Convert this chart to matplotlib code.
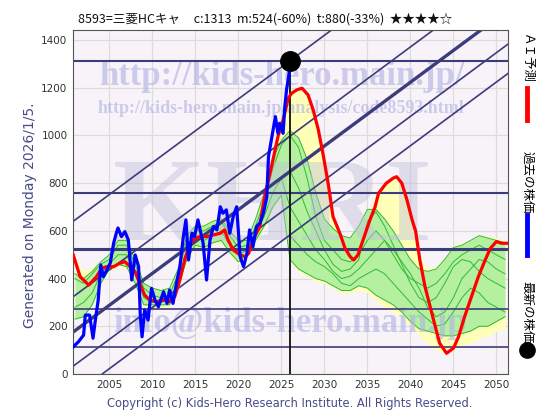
import matplotlib
matplotlib.use('Agg')
import matplotlib.pyplot as plt
import numpy as np

# --- data ------------------------------------------------------------------
past_years = [2000.8, 2001.4, 2002.0, 2002.2, 2002.7, 2003.1, 2003.4, 2003.7, 2004.0, 2004.3,
              2004.7, 2005.1, 2005.5, 2005.8, 2006.0, 2006.4, 2006.8, 2007.2, 2007.6, 2008.0,
              2008.4, 2008.6, 2008.8, 2009.1, 2009.5, 2009.9, 2010.3, 2010.7, 2011.3, 2011.7,
              2012.0, 2012.4, 2012.8, 2013.2, 2013.6, 2013.9, 2014.2, 2014.6, 2014.9, 2015.3,
              2015.9, 2016.3, 2016.7, 2017.1, 2017.5, 2017.9, 2018.2, 2018.6, 2019.0, 2019.4,
              2019.8, 2020.2, 2020.6, 2021.0, 2021.3, 2021.7, 2022.1, 2022.5, 2022.9, 2023.3,
              2023.5, 2023.9, 2024.3, 2024.6, 2024.8, 2025.2, 2025.4, 2025.6, 2025.9, 2026.0]
past_price = [114, 135, 163, 247, 247, 150, 234, 310, 457, 408,
              436, 465, 549, 590, 612, 576, 597, 562, 394, 499,
              450, 240, 156, 268, 226, 359, 310, 282, 345, 296,
              352, 296, 380, 450, 576, 646, 478, 590, 576, 646,
              548, 394, 562, 618, 604, 701, 674, 688, 590, 660,
              701, 492, 450, 506, 604, 534, 618, 632, 674, 740,
              911, 995, 1079, 1009, 1051, 1009, 1121, 1191, 1261, 1313]

pred_years = [2000.8, 2001.6, 2002.6, 2003.5, 2004.1, 2004.7, 2005.5, 2006.2, 2006.8, 2007.4,
              2008.0, 2008.6, 2009.1, 2009.7, 2010.5, 2011.3, 2012.0, 2012.6, 2013.2, 2013.8,
              2014.4, 2015.0, 2015.5, 2016.3, 2017.1, 2017.9, 2018.4, 2018.8, 2019.4, 2020.2,
              2020.8, 2021.2, 2021.7, 2022.5, 2022.9, 2023.5, 2024.1, 2024.6, 2025.2, 2025.8,
              2026.2, 2026.8, 2027.4, 2028.1, 2028.7, 2029.3, 2029.9, 2030.5, 2031.0, 2031.8,
              2032.4, 2033.0, 2033.4, 2033.9, 2034.5, 2035.3, 2035.9, 2036.3, 2037.2, 2038.0,
              2038.4, 2039.0, 2039.6, 2040.2, 2040.6, 2041.1, 2041.7, 2042.3, 2042.9, 2043.4,
              2044.2, 2045.0, 2045.6, 2046.3, 2047.1, 2047.9, 2048.7, 2049.3, 2050.0, 2050.6,
              2051.4]
pred_value = [499, 408, 373, 408, 443, 450, 450, 464, 471, 450,
              429, 373, 331, 310, 303, 310, 303, 324, 394, 485,
              548, 569, 576, 576, 583, 590, 604, 562, 520, 499,
              492, 506, 562, 618, 716, 813, 911, 995, 1065, 1156,
              1177, 1191, 1198, 1170, 1107, 1023, 911, 785, 660, 590,
              527, 492, 478, 499, 562, 646, 701, 758, 800, 821,
              827, 800, 730, 646, 600, 478, 366, 282, 198, 129,
              87, 108, 156, 240, 324, 408, 478, 527, 555, 548,
              548]

band_years = list(range(2001, 2052))
yellow_lo = [250, 260, 300, 390, 430, 450, 440, 370, 280, 280,
             280, 280, 360, 470, 530, 520, 540, 550, 500, 460,
             490, 550, 610, 690, 740, 470, 430, 410, 390, 380,
             360, 340, 340, 350, 340, 310, 280, 260, 240, 200,
             160, 130, 100, 90, 100, 120, 130, 150, 160, 180, 190]
yellow_hi = [490, 430, 450, 470, 500, 570, 570, 490, 390, 360,
             360, 360, 450, 590, 630, 630, 650, 660, 610, 570,
             570, 660, 770, 920, 1080, 1180, 1190, 1170, 1050, 850,
             680, 560, 540, 560, 660, 760, 800, 825, 800, 680,
             500, 440, 450, 490, 540, 550, 560, 580, 580, 570, 560]
green_lo = [230, 240, 290, 380, 440, 460, 450, 380, 290, 290,
            290, 290, 370, 480, 540, 530, 550, 560, 510, 470,
            500, 560, 620, 700, 750, 480, 440, 420, 400, 390,
            370, 350, 350, 370, 360, 330, 310, 290, 260, 220,
            190, 180, 170, 160, 160, 170, 180, 200, 200, 220, 240]
green_hi = [420, 400, 430, 470, 500, 560, 560, 480, 380, 360,
            350, 360, 440, 580, 620, 620, 640, 650, 600, 560,
            560, 650, 760, 900, 980, 1020, 990, 900, 760, 650,
            610, 580, 570, 620, 690, 690, 650, 600, 540, 480,
            440, 430, 440, 480, 530, 540, 560, 580, 570, 560, 550]

# a few of the thin green forecast paths
past_path_years = list(range(2001, 2027))
past_paths = [
    [400, 380, 420, 460, 480, 540, 540, 460, 360, 330, 320, 330, 420,
     560, 600, 600, 620, 640, 580, 530, 540, 620, 720, 860, 960, 1000],
    [280, 300, 340, 420, 460, 500, 500, 420, 320, 300, 300, 310, 390,
     520, 570, 560, 580, 600, 540, 500, 520, 590, 660, 760, 820, 700],
]
future_path_years = list(range(2026, 2052))
future_paths = [
    [1000, 950, 820, 660, 560, 520, 480, 470, 500, 560, 600, 560, 500,
     440, 400, 380, 360, 380, 420, 470, 500, 520, 540, 520, 500, 480],
    [850, 780, 680, 600, 520, 460, 430, 440, 480, 640, 680, 620, 540,
     460, 380, 320, 300, 320, 380, 450, 480, 470, 430, 400, 380, 360],
    [700, 640, 580, 520, 480, 430, 400, 410, 440, 480, 520, 560, 520,
     470, 420, 360, 280, 240, 260, 320, 400, 440, 480, 470, 440, 420],
    [580, 540, 500, 470, 450, 420, 380, 370, 400, 420, 440, 420, 380,
     340, 300, 260, 230, 200, 210, 260, 320, 360, 340, 300, 280, 260],
]

levels = [1313, 760, 524, 272, 112]
level_widths = [1.5, 1.5, 2.2, 1.2, 1.2]
channel_ref_year = 2026
channel_mid = 849
channel_slope = 26.7
channel_offsets = [464, 148, 0, -143, -266]

now_year = 2026.0
latest_price = 1313

title = "8593=三菱HCキャ     c:1313  m:524(-60%)  t:880(-33%)  ★★★★☆"
navy = '#3c3c7c'
text_blue = '#4a4a8a'
cjk = ['Noto Sans CJK JP', 'DejaVu Sans']

# --- figure ------------------------------------------------------------------
fig = plt.figure(figsize=(5.6, 4.2), dpi=100, facecolor='white')
ax = fig.add_axes([73 / 560, 46 / 420, 435 / 560, 344 / 420])
ax.set_facecolor('#f8f3f8')
ax.set_xlim(2000.77, 2051.35)
ax.set_ylim(0, 1442)

ax.set_xticks(range(2005, 2051, 5))
ax.set_yticks(range(0, 1401, 200))
ax.grid(True, color='#dcdcdc', lw=0.9, zorder=0)
ax.set_axisbelow(True)
ax.tick_params(length=0, labelsize=7.5, colors='#333333', pad=4)
for s in ax.spines.values():
    s.set_color('#555555')
    s.set_linewidth(0.8)

# bands
ax.fill_between(band_years, yellow_lo, yellow_hi, color='#ffffb8', lw=0, zorder=1)
ax.fill_between(band_years, green_lo, green_hi, color='#b4f0a0', lw=0, zorder=1.1)
ax.plot(band_years, green_lo, color='#33b833', lw=0.7, zorder=1.2)
ax.plot(band_years, green_hi, color='#33b833', lw=0.7, zorder=1.2)
for p in past_paths:
    ax.plot(past_path_years, p, color='#33b833', lw=0.7, zorder=1.2)
for p in future_paths:
    ax.plot(future_path_years, p, color='#33b833', lw=0.7, zorder=1.2)

# watermarks (figure-pixel placement, drawn inside the axes below the lines)
ft = fig.transFigure
wm = dict(ha='center', va='baseline', family='Liberation Serif', weight='bold',
          color='#b0b0e4', alpha=0.6, zorder=1.5, transform=ft)
ax.text(272 / 560, 1 - 240 / 420, 'KHRI', fontsize=86, **dict(wm, color='#c0c0dc', alpha=0.45))
ax.text(282 / 560, 1 - 85 / 420, 'http://kids-hero.main.jp/', fontsize=25, **wm)
ax.text(281 / 560, 1 - 113 / 420, 'http://kids-hero.main.jp/analysis/code8593.html',
        fontsize=13, **wm)
ax.text(290 / 560, 1 - 332 / 420, 'info@kids-hero.main.jp', fontsize=25, **wm)

# horizontal levels and trend channel
for lv, w in zip(levels, level_widths):
    ax.axhline(lv, color=navy, lw=w, zorder=2)
for off in channel_offsets:
    ax.axline((channel_ref_year, channel_mid + off), slope=channel_slope,
              color=navy, lw=2.4 if off == 0 else 1.2, zorder=2)

ax.vlines(now_year, 0, latest_price, color='#111111', lw=1.3, zorder=3)
ax.plot(pred_years, pred_value, color='#ff0000', lw=2.3, zorder=4)
ax.plot(past_years, past_price, color='#0000ff', lw=2.3, zorder=5)
ax.plot([now_year], [latest_price], 'o', color='black', ms=14, zorder=6, clip_on=False)

# texts around the plot
fig.text(265 / 560, 1 - 19 / 420, title, ha='center', va='center', fontsize=9,
         family=cjk, color='#111111')
fig.text(30 / 560, 1 - 215 / 420, 'Generated on Monday 2026/1/5.', rotation=90,
         ha='center', va='center', fontsize=10, color=text_blue)
fig.text(290 / 560, 1 - 403 / 420,
         'Copyright (c) Kids-Hero Research Institute. All Rights Reserved.',
         ha='center', va='center', fontsize=8.3, color=text_blue)

# right-hand legend
fig.text(527 / 560, 1 - 58 / 420, 'ＡＩ予測', rotation=270, ha='center', va='center',
         fontsize=9, family=cjk)
fig.add_artist(plt.Line2D([527 / 560] * 2, [1 - 88 / 420, 1 - 120 / 420],
                          color='#ff0000', lw=3.5))
fig.text(527 / 560, 1 - 182 / 420, '過去の株価', rotation=270, ha='center', va='center',
         fontsize=9, family=cjk)
fig.add_artist(plt.Line2D([527 / 560] * 2, [1 - 215 / 420, 1 - 255 / 420],
                          color='#0000ff', lw=3.5))
fig.text(527 / 560, 1 - 312 / 420, '最新の株価', rotation=270, ha='center', va='center',
         fontsize=9, family=cjk)
fig.add_artist(plt.Line2D([527 / 560], [1 - 350 / 420], marker='o', color='black',
                          ms=11, lw=0))

fig.savefig('out.png', dpi=100)
